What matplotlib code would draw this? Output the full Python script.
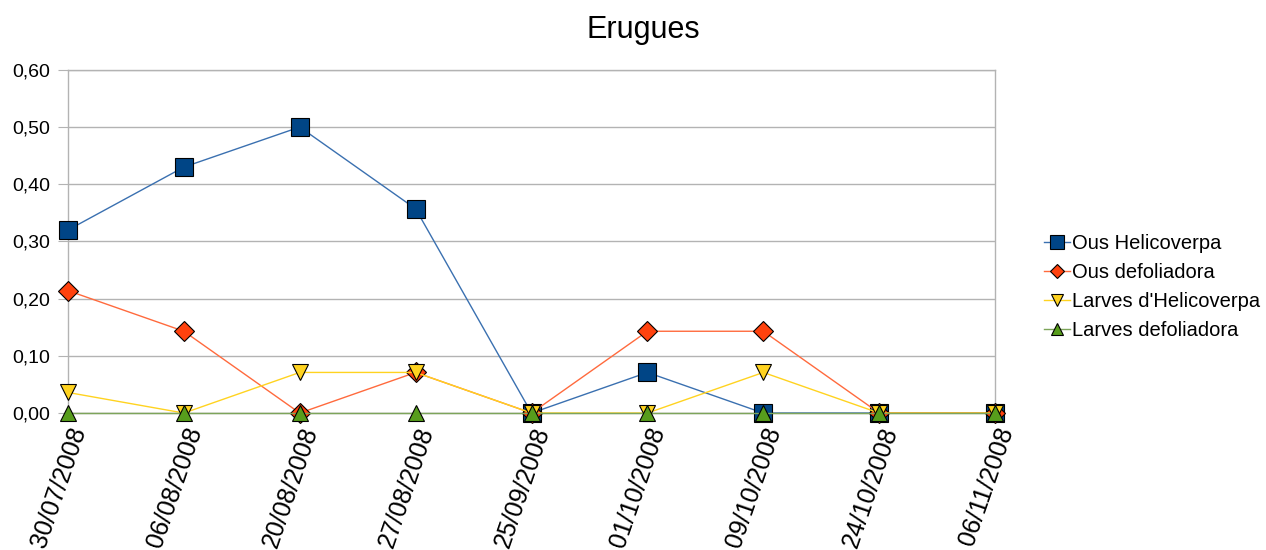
import matplotlib
matplotlib.use("Agg")
import matplotlib.pyplot as plt
from matplotlib.ticker import FuncFormatter
from matplotlib.transforms import ScaledTranslation

plt.rcParams['font.family'] = ['Liberation Sans', 'DejaVu Sans']

dates = ["30/07/2008", "06/08/2008", "20/08/2008", "27/08/2008", "25/09/2008",
         "01/10/2008", "09/10/2008", "24/10/2008", "06/11/2008"]
ous_helicoverpa = [0.32, 0.43, 0.50, 0.357, 0.0, 0.071, 0.0, 0.0, 0.0]
ous_defoliadora = [0.214, 0.143, 0.0, 0.071, 0.0, 0.143, 0.143, 0.0, 0.0]
larves_helicoverpa = [0.036, 0.0, 0.071, 0.071, 0.0, 0.0, 0.071, 0.0, 0.0]
larves_defoliadora = [0.0, 0.0, 0.0, 0.0, 0.0, 0.0, 0.0, 0.0, 0.0]
yticks = [0.0, 0.1, 0.2, 0.3, 0.4, 0.5, 0.6]

fig = plt.figure(figsize=(12.66, 5.5), dpi=100)
ax = fig.add_axes([0.0537, 0.249, 0.7323, 0.624])

x = list(range(len(dates)))
series = [
    ("Ous Helicoverpa", ous_helicoverpa, "#004586", "#3a70b0", "s", 13),
    ("Ous defoliadora", ous_defoliadora, "#ff420e", "#ff6a3d", "D", 10),
    ("Larves d'Helicoverpa", larves_helicoverpa, "#ffd320", "#ffd320", "v", 12),
    ("Larves defoliadora", larves_defoliadora, "#579d1c", "#7da55a", "^", 12),
]
for name, vals, mc, lc, m, ms in series:
    ax.plot(x, vals, color=lc, lw=1.0, marker=m, markersize=ms,
            markerfacecolor=mc, markeredgecolor="black", markeredgewidth=0.8,
            label=name, clip_on=False, zorder=3)

ax.set_xlim(0, len(dates) - 1)
ax.set_ylim(0, 0.6)
ax.set_yticks(yticks)
ax.yaxis.set_major_formatter(FuncFormatter(lambda v, p: f"{v:.2f}".replace(".", ",")))
ax.set_xticks(x)
ax.set_xticklabels(dates, rotation=71, ha="right", va="top", fontsize=18,
                   rotation_mode="anchor")
offset = ScaledTranslation(-7 / 100, 0, fig.dpi_scale_trans)
for lbl in ax.get_xticklabels():
    lbl.set_transform(lbl.get_transform() + offset)
ax.tick_params(axis="y", labelsize=14, length=7, pad=6, color="#b3b3b3")
ax.tick_params(axis="x", length=5, color="#b3b3b3", pad=3)
ax.grid(axis="y", color="#b3b3b3", lw=1)
ax.set_axisbelow(True)
for s in ax.spines.values():
    s.set_color("#b3b3b3")
    s.set_linewidth(1)

fig.suptitle("Erugues", x=0.508, y=0.972, fontsize=22)

leg = fig.legend(loc="center left", bbox_to_anchor=(0.81, 0.478), frameon=False,
                 fontsize=14.5, handlelength=1.3, handletextpad=0.1,
                 labelspacing=0.5, markerscale=0.75)

fig.savefig("out.png", dpi=100)
